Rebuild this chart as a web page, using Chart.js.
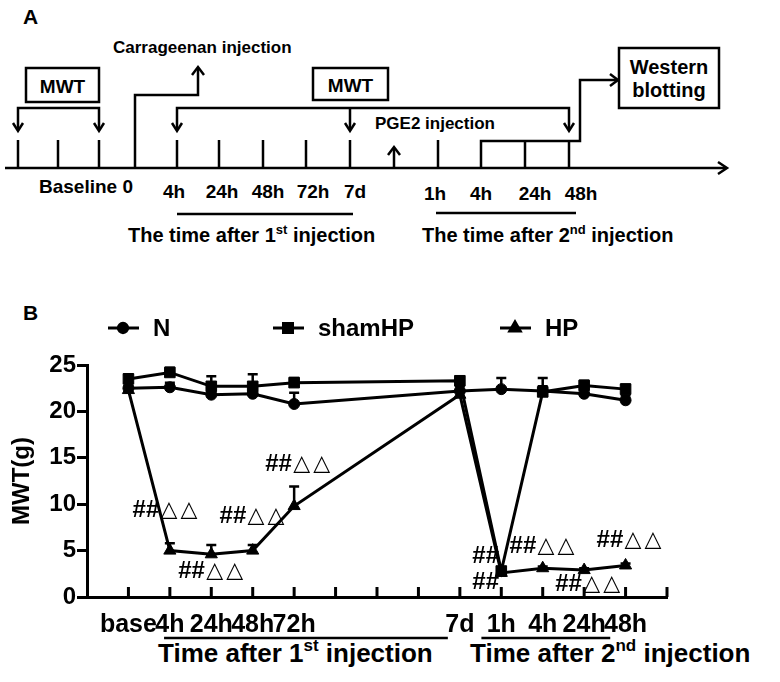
<!DOCTYPE html>
<html>
<head>
<meta charset="utf-8">
<script src="https://cdn.jsdelivr.net/npm/chart.js@4.4.0/dist/chart.umd.min.js"></script>
<style>
html, body { margin: 0; padding: 0; background: #fff; }
#wrap { position: relative; width: 780px; height: 682px; }
#wrap svg { position: absolute; left: 0; top: 0; }
#box { position: absolute; left: 0; top: 295px; width: 780px; height: 387px; }
</style>
</head>
<body>
<div id="wrap">
<svg width="780" height="682" font-family="'Liberation Sans', Arial, sans-serif" font-weight="bold">
  <!-- panel A : timeline -->
  <g stroke="#000" stroke-width="2.5" fill="none">
    <line x1="5" y1="168" x2="726" y2="168"/>
    <polyline points="718,162 727,168 718,174"/>
    <line x1="18" y1="140" x2="18" y2="168"/>
    <line x1="58" y1="140" x2="58" y2="168"/>
    <line x1="99" y1="140" x2="99" y2="168"/>
    <line x1="177" y1="140" x2="177" y2="168"/>
    <line x1="219" y1="140" x2="219" y2="168"/>
    <line x1="263" y1="140" x2="263" y2="168"/>
    <line x1="306" y1="140" x2="306" y2="168"/>
    <line x1="350" y1="140" x2="350" y2="168"/>
    <line x1="438" y1="140" x2="438" y2="168"/>
    <line x1="525" y1="141" x2="525" y2="168"/>
    <line x1="569" y1="141" x2="569" y2="168"/>
    <path d="M481,168 V141 H580 V80 H617"/>
    <polyline points="610,74 618,80 610,86"/>
    <path d="M135,168 V95 H198 V68"/>
    <polyline points="192,75 198,67 204,75"/>
    <line x1="394" y1="168" x2="394" y2="148"/>
    <polyline points="388,155 394,147 400,155"/>
    <rect x="26" y="68" width="73" height="34"/>
    <path d="M18,130 V108 H99 V130"/>
    <polyline points="13,123 18,131 23,123"/>
    <polyline points="94,123 99,131 104,123"/>
    <rect x="313" y="68" width="75" height="32"/>
    <path d="M177,130 V108 H569 V130"/>
    <line x1="350" y1="108" x2="350" y2="130"/>
    <polyline points="172,123 177,131 182,123"/>
    <polyline points="345,123 350,131 355,123"/>
    <polyline points="564,123 569,131 574,123"/>
    <rect x="619" y="48" width="100" height="60"/>
    <line x1="177" y1="214" x2="353" y2="214"/>
    <line x1="436" y1="213" x2="576" y2="213"/>
  </g>
  <g fill="#000">
    <text x="23" y="24" font-size="21">A</text>
    <text x="113" y="53" font-size="17">Carrageenan injection</text>
    <text x="62.5" y="93" font-size="19" text-anchor="middle">MWT</text>
    <text x="350.5" y="92" font-size="19" text-anchor="middle">MWT</text>
    <text x="375" y="129" font-size="17">PGE2 injection</text>
    <text x="669" y="74" font-size="20" text-anchor="middle">Western</text>
    <text x="669" y="97" font-size="20" text-anchor="middle">blotting</text>
    <text x="39" y="193" font-size="19">Baseline 0</text>
    <g font-size="19" text-anchor="middle">
      <text x="174" y="198">4h</text>
      <text x="222" y="198">24h</text>
      <text x="268" y="198">48h</text>
      <text x="313" y="198">72h</text>
      <text x="355" y="198">7d</text>
      <text x="435" y="200">1h</text>
      <text x="481" y="200">4h</text>
      <text x="535" y="200">24h</text>
      <text x="581" y="200">48h</text>
    </g>
    <text x="128" y="242" font-size="20">The time after 1<tspan font-size="13" dy="-8">st</tspan><tspan dy="8"> injection</tspan></text>
    <text x="422" y="242" font-size="20">The time after 2<tspan font-size="13" dy="-8">nd</tspan><tspan dy="8"> injection</tspan></text>
    <!-- panel B static text -->
    <text x="23" y="320" font-size="21">B</text>
    <text x="158" y="662" font-size="26">Time after 1<tspan font-size="17" dy="-11">st</tspan><tspan dy="11"> injection</tspan></text>
    <text x="470" y="662" font-size="26">Time after 2<tspan font-size="17" dy="-11">nd</tspan><tspan dy="11"> injection</tspan></text>
  </g>
</svg>
<div id="box"><canvas id="mwtChart"></canvas></div>
</div>
<script>
// time points (x position on the axis) and their labels
const timePos = [1, 2, 3, 4, 5, 9, 10, 11, 12, 13];
const timeLabels = ['base', '4h', '24h', '48h', '72h', '7d', '1h', '4h', '24h', '48h'];

// MWT (g), mean and SEM
const nMean = [22.5, 22.6, 21.8, 21.9, 20.8, 22.2, 22.4, 22.2, 21.9, 21.2];
const nErr = [0.6, 0.5, 0.4, 0.4, 1.2, 0.5, 1.2, 0.5, 0.5, 0.5];
const shamMean = [23.5, 24.2, 22.7, 22.7, 23.1, 23.3, 2.8, 22.1, 22.8, 22.4];
const shamErr = [0.5, 0.5, 1.1, 1.3, 0.5, 0.4, 0.3, 1.5, 0.5, 0.5];
const hpMean = [22.3, 5.0, 4.6, 5.0, 9.8, 21.8, 2.6, 3.1, 2.9, 3.4];
const hpErr = [0.4, 0.8, 1.0, 0.6, 2.1, 0.5, 0.3, 0.2, 0.2, 0.2];

// significance marks
const markText = ['##△△', '##△△', '##△△', '##△△', '##', '##', '##△△', '##△△', '##△△'];
const markX = [1.1, 2.2, 3.2, 4.3, 9.3, 9.3, 10.2, 11.3, 12.3];
const markY = [9.3, 2.8, 8.7, 14.3, 4.4, 1.6, 5.5, 1.4, 6.1];

// underline ranges below the x axis
const spanFrom = [1.86, 9.52];
const spanTo = [8.71, 12.63];

const FONT = "'Liberation Sans', Arial, sans-serif";

function makeSet(label, mean, style, r) {
    return {
        label: label,
        data: timePos.map((p, i) => ({x: p, y: mean[i]})),
        borderColor: '#000',
        backgroundColor: '#000',
        borderWidth: 3,
        pointStyle: style,
        pointRadius: r,
        pointBorderWidth: 1,
        pointBackgroundColor: '#000',
        pointBorderColor: '#000',
        tension: 0
    };
}

const datasets = [
    makeSet('N', nMean, 'circle', 5.5),
    makeSet('shamHP', shamMean, 'rect', 7.5),
    makeSet('HP', hpMean, 'triangle', 7)
];
const errs = [nErr, shamErr, hpErr];

const extras = {
    id: 'extras',
    beforeDatasetsDraw(chart) {
        const {ctx, scales: {x, y}} = chart;
        ctx.save();
        ctx.strokeStyle = '#000';
        ctx.lineWidth = 2.5;
        datasets.forEach((ds, k) => {
            ds.data.forEach((pt, i) => {
                const px = x.getPixelForValue(pt.x);
                const y0 = y.getPixelForValue(pt.y);
                const y1 = y.getPixelForValue(pt.y + errs[k][i]);
                ctx.beginPath();
                ctx.moveTo(px, y0);
                ctx.lineTo(px, y1);
                ctx.moveTo(px - 5, y1);
                ctx.lineTo(px + 5, y1);
                ctx.stroke();
            });
        });
        ctx.restore();
    },
    afterDraw(chart) {
        const {ctx, scales: {x, y}} = chart;
        ctx.save();
        // x ticks pointing into the plot
        ctx.strokeStyle = '#000';
        ctx.lineWidth = 3;
        for (let v = 1; v <= 14; v++) {
            const px = x.getPixelForValue(v);
            ctx.beginPath();
            ctx.moveTo(px, y.bottom);
            ctx.lineTo(px, y.bottom - 10);
            ctx.stroke();
        }
        // underlines
        ctx.lineWidth = 2.5;
        spanFrom.forEach((a, i) => {
            ctx.beginPath();
            ctx.moveTo(x.getPixelForValue(a), y.bottom + 41);
            ctx.lineTo(x.getPixelForValue(spanTo[i]), y.bottom + 41);
            ctx.stroke();
        });
        // ## and triangles
        ctx.fillStyle = '#000';
        ctx.textBaseline = 'middle';
        ctx.textAlign = 'left';
        markText.forEach((t, i) => {
            const px = x.getPixelForValue(markX[i]);
            const py = y.getPixelForValue(markY[i]);
            ctx.font = 'bold 24px ' + FONT;
            ctx.fillText(t.slice(0, 2), px, py);
            ctx.font = '22px "DejaVu Sans"';
            const tri = t.slice(2);
            for (let j = 0; j < tri.length; j++) {
                ctx.fillText(tri[j], px + 28 + j * 20, py);
            }
        });
        // legend
        const legX = [108, 273, 500];
        const legY = 33;
        ctx.font = 'bold 24px ' + FONT;
        datasets.forEach((ds, k) => {
            const lx = legX[k];
            ctx.lineWidth = 3;
            ctx.beginPath();
            ctx.moveTo(lx, legY);
            ctx.lineTo(lx + 31, legY);
            ctx.stroke();
            Chart.helpers.drawPoint(ctx, {pointStyle: ds.pointStyle, radius: ds.pointRadius * 0.85, borderWidth: 1, rotation: 0}, lx + 15, legY);
            ctx.fillText(ds.label, lx + 45, legY + 1);
        });
        ctx.restore();
    }
};

const chart = new Chart(document.getElementById('mwtChart').getContext('2d'), {
    type: 'line',
    data: {datasets: datasets},
    options: {
        responsive: true,
        maintainAspectRatio: false,
        animation: false,
        layout: {padding: {top: 70, right: 113, left: 0, bottom: 0}},
        plugins: {legend: {display: false}, tooltip: {enabled: false}},
        scales: {
            x: {
                type: 'linear',
                min: 0,
                max: 14,
                afterFit: (scale) => { scale.height = 85; },
                grid: {display: false, drawTicks: false},
                border: {display: true, color: '#000', width: 3},
                ticks: {
                    stepSize: 1,
                    autoSkip: false,
                    maxRotation: 0,
                    minRotation: 0,
                    padding: 13,
                    color: '#000',
                    font: {family: FONT, size: 25, weight: 'bold'},
                    callback: (v) => {
                        const i = timePos.indexOf(v);
                        return i >= 0 ? timeLabels[i] : '';
                    }
                }
            },
            y: {
                min: 0,
                max: 25,
                afterFit: (scale) => { scale.width = 87; },
                grid: {drawOnChartArea: false, tickLength: 10, color: '#000', lineWidth: 3},
                border: {display: true, color: '#000', width: 3},
                ticks: {
                    stepSize: 5,
                    padding: 1,
                    color: '#000',
                    font: {family: FONT, size: 24, weight: 'bold'}
                },
                title: {
                    display: true,
                    text: 'MWT(g)',
                    color: '#000',
                    padding: {top: 8, bottom: 0},
                    font: {family: FONT, size: 24, weight: 'bold'}
                }
            }
        }
    },
    plugins: [extras]
});
</script>
</body>
</html>
